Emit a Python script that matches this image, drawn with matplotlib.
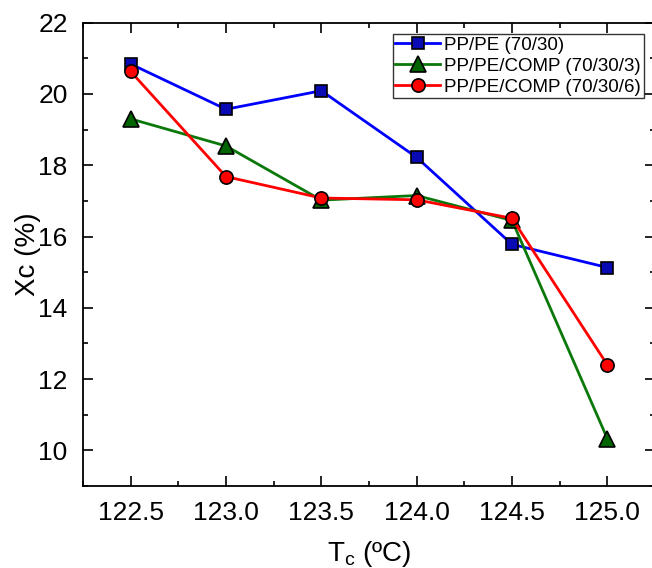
import matplotlib
matplotlib.use("Agg")
import matplotlib.pyplot as plt
from matplotlib.ticker import MultipleLocator

plt.rcParams['font.family'] = ['Liberation Sans', 'DejaVu Sans']
plt.rcParams['mathtext.fontset'] = 'custom'
plt.rcParams['mathtext.rm'] = 'Liberation Sans'

# crystallisation temperature (ºC)
tc = [122.5, 123.0, 123.5, 124.0, 124.5, 125.0]

# crystallinity Xc (%)
xc_pp_pe = [20.84, 19.57, 20.09, 18.22, 15.78, 15.13]
xc_comp3 = [19.30, 18.54, 17.02, 17.15, 16.45, 10.33]
xc_comp6 = [20.63, 17.68, 17.08, 17.03, 16.51, 12.40]

labels = ['PP/PE (70/30)', 'PP/PE/COMP (70/30/3)', 'PP/PE/COMP (70/30/6)']

fig = plt.figure(figsize=(6.52, 5.68), dpi=100)
ax = fig.add_axes([0.1273, 0.1444, 0.8773, 0.8157])

ax.plot(tc, xc_pp_pe, color='#0000ff', lw=2, marker='s', ms=9,
        mfc='#0a0ab4', mec='black', mew=1.2, label=labels[0])
ax.plot(tc, xc_comp3, color='#0a780a', lw=2, marker='^', ms=11,
        mfc='#006400', mec='black', mew=1.2, label=labels[1])
ax.plot(tc, xc_comp6, color='#ff0000', lw=2, marker='o', ms=9.5,
        mfc='#ff0000', mec='black', mew=1.2, label=labels[2])

ax.set_xlim(122.25, 125.25)
ax.set_ylim(9, 22)
ax.set_xticks(tc)
ax.set_xticklabels(['%.1f' % v for v in tc])
ax.set_yticks([10, 12, 14, 16, 18, 20, 22])
ax.xaxis.set_minor_locator(MultipleLocator(0.25))
ax.yaxis.set_minor_locator(MultipleLocator(1))

ax.tick_params(which='both', direction='in', top=True, right=True, width=1.2)
ax.tick_params(which='major', length=7, labelsize=19, pad=11)
ax.tick_params(which='minor', length=3.5)
for s in ax.spines.values():
    s.set_linewidth(1.3)

ax.set_xlabel(r'T$_\mathregular{c}$ (ºC)', fontsize=20, labelpad=10)
ax.set_ylabel('Xc (%)', fontsize=20, labelpad=-2)

leg = ax.legend(loc='upper right', fontsize=13.5, frameon=True, fancybox=False,
                handlelength=2.4, handletextpad=0.2, labelspacing=0.2,
                borderpad=0.15, borderaxespad=0.6)
leg.get_frame().set_edgecolor('black')
leg.get_frame().set_linewidth(1.0)

fig.savefig('out.png', dpi=100)
